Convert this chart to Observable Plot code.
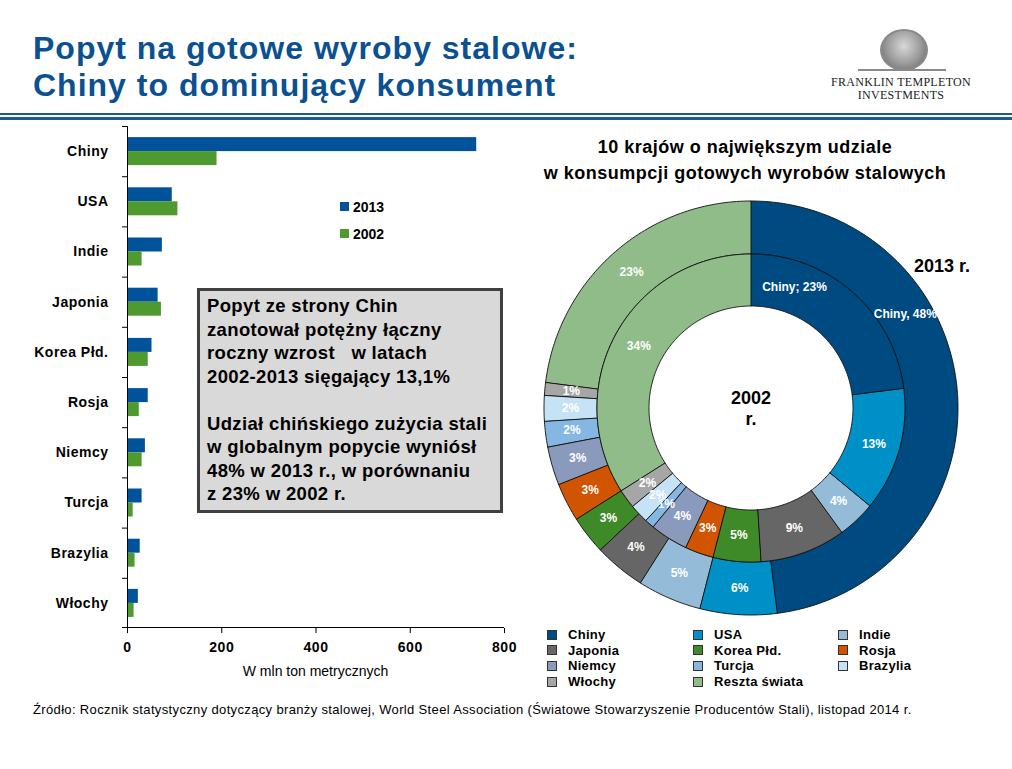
<!DOCTYPE html>
<html lang="pl">
<head>
<meta charset="utf-8">
<script src="https://cdn.jsdelivr.net/npm/d3@7"></script>
<script src="https://cdn.jsdelivr.net/npm/@observablehq/plot@0.6"></script>
<style>
html,body{margin:0;padding:0;background:#fff}
#page{position:relative;width:1012px;height:769px;overflow:hidden;font-family:"Liberation Sans",Arial,sans-serif;color:#000}
.abs{position:absolute}
#title{left:33px;top:30px;font-size:32px;font-weight:bold;color:#0b5191;line-height:37px;white-space:nowrap;letter-spacing:1px}
#rule1{left:0;top:113px;width:1012px;height:2px;background:#1d5a8e}
#rule2{left:0;top:117px;width:1012px;height:3px;background:#1d5a8e}
#logo-oval{left:880px;top:29px;width:44px;height:38px;border-radius:50%;border:2px solid #8a8a8a;background:radial-gradient(ellipse at 50% 40%,#d8d8d8 0%,#9a9a9a 55%,#5e5e5e 100%)}
#logo-base{left:858px;top:69px;width:88px;height:2px;background:#8a8a8a}
#logo-text{left:818px;top:76px;width:166px;text-align:center;font-family:"Liberation Serif","DejaVu Serif",serif;font-size:12px;line-height:12.5px;color:#222;letter-spacing:0.3px}
#bars{left:0;top:110px}
#bars svg text{letter-spacing:0.5px}
#donut{left:530px;top:187px}
#xlabel{left:127px;top:663px;width:377px;text-align:center;font-size:14px}
#barlegend{left:340px;top:193px;font-size:14px;font-weight:bold}
.bl-item{display:flex;align-items:center;height:27px}
.bl-sw{width:9px;height:9px;margin-right:4px}
#box{left:197px;top:288px;width:306px;height:225px;box-sizing:border-box;border:3px solid #404040;background:#d9d9d9;padding:3px 0 0 7px;font-size:18.5px;font-weight:bold;line-height:23.5px;z-index:2;white-space:nowrap;letter-spacing:0.35px}
#dtitle{left:530px;top:134px;width:430px;text-align:center;font-size:18px;font-weight:bold;line-height:26px;letter-spacing:0.5px}
#y2013{left:914px;top:256px;font-size:18px;font-weight:bold}
#dlegend{left:547px;top:627px;display:grid;grid-template-columns:146px 145px 140px;grid-auto-rows:15.6px;font-size:13px;font-weight:bold;letter-spacing:0.3px}
.dl-item{display:flex;align-items:center;white-space:nowrap}
.dl-sw{width:8px;height:8px;border:1px solid #333;margin-right:11px;flex:none}
#source{left:33px;top:702px;font-size:13px;white-space:nowrap;letter-spacing:0.35px}
</style>
</head>
<body>
<div id="page">
  <div id="title" class="abs">Popyt na gotowe wyroby stalowe:<br>Chiny to dominujący konsument</div>
  <div id="rule1" class="abs"></div>
  <div id="rule2" class="abs"></div>
  <div id="logo-oval" class="abs"></div>
  <div id="logo-base" class="abs"></div>
  <div id="logo-text" class="abs">FRANKLIN TEMPLETON<br>INVESTMENTS</div>
  <div id="bars" class="abs"></div>
  <div id="xlabel" class="abs"></div>
  <div id="barlegend" class="abs"></div>
  <div id="box" class="abs"></div>
  <div id="dtitle" class="abs"></div>
  <div id="donut" class="abs"></div>
  <div id="y2013" class="abs"></div>
  <div id="dlegend" class="abs"></div>
  <div id="source" class="abs"></div>
</div>
<script>
// ---------- DATA ----------
const countries = ["Chiny", "USA", "Indie", "Japonia", "Korea Płd.", "Rosja", "Niemcy", "Turcja", "Brazylia", "Włochy"];
const demand2013 = [741, 95, 74, 65, 52, 44, 38, 31, 27, 23];
const demand2002 = [190, 107, 31, 72, 44, 25, 31, 12, 16, 14];
const xTicks = [0, 200, 400, 600, 800];
const barYears = ["2013", "2002"];
const barColors = ["#00529b", "#4f9a2f"];
const xAxisLabel = "W mln ton metrycznych";

const sliceNames = ["Chiny", "USA", "Indie", "Japonia", "Korea Płd.", "Rosja", "Niemcy", "Turcja", "Brazylia", "Włochy", "Reszta świata"];
const share2013 = [48, 6, 5, 4, 3, 3, 3, 2, 2, 1, 23];
const share2002 = [23, 13, 4, 9, 5, 3, 4, 1, 2, 2, 34];
const sliceColors = ["#004a82", "#0090c8", "#94bcd8", "#666666", "#3f8a28", "#d15400", "#8a9abc", "#84b8e2", "#c6e2f6", "#a6a6a6", "#8fbc88"];
const legendOrder = ["Chiny", "USA", "Indie", "Japonia", "Korea Płd.", "Rosja", "Niemcy", "Turcja", "Brazylia", "Włochy", "Reszta świata"];

const titleLines = ["10 krajów o największym udziale", "w konsumpcji gotowych wyrobów stalowych"];
const ringLabels = {outer: "2013 r.", inner: "2002\nr."};
const boxText = ["Popyt ze strony Chin", "zanotował potężny łączny", "roczny wzrost\u00a0\u00a0 w latach", "2002-2013 sięgający 13,1%", "", "Udział chińskiego zużycia stali", "w globalnym popycie wyniósł", "48% w 2013 r., w porównaniu", "z 23% w 2002 r."];
const sourceText = "Źródło: Rocznik statystyczny dotyczący branży stalowej, World Steel Association (Światowe Stowarzyszenie Producentów Stali), listopad 2014 r.";

// ---------- BAR CHART ----------
const font = '"Liberation Sans", Arial, sans-serif';
const W = 520, H = 580, mL = 127, mR = 16, mT = 16, mB = 62;
const step = (H - mT - mB) / countries.length;
const barH = 14;
const gap = (step - 2 * barH) / 2;
const pxPerUnit = (W - mL - mR) / (xTicks[xTicks.length - 1] - xTicks[0]);
const tickLen = 5 / pxPerUnit;

const rows = countries.map((c, i) => ({country: c, v2013: demand2013[i], v2002: demand2002[i]}));
const last = countries[countries.length - 1];

const bars = Plot.plot({
  width: W, height: H, marginLeft: mL, marginRight: mR, marginTop: mT, marginBottom: mB,
  style: {fontFamily: font, fontSize: "14px", fontWeight: "bold", color: "#000", background: "transparent", overflow: "visible"},
  x: {domain: [xTicks[0], xTicks[xTicks.length - 1]], ticks: xTicks},
  y: {domain: countries, padding: 0, round: false},
  marks: [
    Plot.barX(rows, {x: "v2013", y: "country", fill: barColors[0], insetTop: gap, insetBottom: gap + barH}),
    Plot.barX(rows, {x: "v2002", y: "country", fill: barColors[1], insetTop: gap + barH, insetBottom: gap}),
    // category separator ticks (top of each band)
    Plot.barX(countries, {y: d => d, x1: -tickLen, x2: 0, fill: "#000", insetBottom: step - 1}),
    // bottom axis line with last tick
    Plot.barX([last], {y: d => d, x1: -tickLen, x2: xTicks[xTicks.length - 1], fill: "#000", insetTop: step - 1}),
    Plot.ruleX([0], {stroke: "#000", strokeWidth: 1}),
    Plot.axisY({tickSize: 0, tickPadding: 19, label: null, fontWeight: "bold", fontSize: 14}),
    Plot.axisX({ticks: xTicks, tickSize: 5, tickPadding: 9, label: null, fontWeight: "bold", fontSize: 14, stroke: "#000"})
  ]
});
document.getElementById("bars").appendChild(bars);
document.getElementById("xlabel").textContent = xAxisLabel;

const bl = document.getElementById("barlegend");
barYears.forEach((y, i) => {
  const it = document.createElement("div"); it.className = "bl-item";
  const sw = document.createElement("div"); sw.className = "bl-sw"; sw.style.background = barColors[i];
  const t = document.createElement("span"); t.textContent = y;
  it.appendChild(sw); it.appendChild(t); bl.appendChild(it);
});

// text box
document.getElementById("box").innerHTML = boxText.map(s => s === "" ? "&nbsp;" : s.replace(/&/g, "&amp;")).join("<br>");

// ---------- DONUT ----------
const S = 441;           // svg size
const outerPx = 207;     // outer radius in px
const D = S / 2 / outerPx;
const rOuter = 1, rMid = 154 / 207, rHole = 102 / 207;
const labelFrac = {"outer:Chiny": 0.34, "inner:Chiny": 0.24};

function ring(values, ringName, r0, r1) {
  const total = d3.sum(values);
  let acc = 0;
  return values.map((v, i) => {
    const a0 = acc / total * 2 * Math.PI; acc += v;
    const a1 = acc / total * 2 * Math.PI;
    return {ring: ringName, name: sliceNames[i], value: v, a0, a1, r0, r1};
  });
}
const slices = [...ring(share2013, "outer", rMid, rOuter), ...ring(share2002, "inner", rHole, rMid)];

const pts = [];
for (const s of slices) {
  const n = Math.max(2, Math.ceil((s.a1 - s.a0) / (Math.PI / 180)));
  const key = s.ring + ":" + s.name;
  for (let k = 0; k <= n; k++) {
    const a = s.a0 + (s.a1 - s.a0) * k / n;
    pts.push({key, name: s.name, x: s.r1 * Math.sin(a), y: s.r1 * Math.cos(a)});
  }
  for (let k = n; k >= 0; k--) {
    const a = s.a0 + (s.a1 - s.a0) * k / n;
    pts.push({key, name: s.name, x: s.r0 * Math.sin(a), y: s.r0 * Math.cos(a)});
  }
}
const labels = slices.map(s => {
  const key = s.ring + ":" + s.name;
  const f = labelFrac[key] ?? 0.5;
  const a = s.a0 + (s.a1 - s.a0) * f;
  const r = (s.r0 + s.r1) / 2;
  let text = s.value + "%";
  if (s.name === "Chiny") text = s.ring === "outer" ? `Chiny, ${s.value}%` : `Chiny; ${s.value}%`;
  return {x: r * Math.sin(a), y: r * Math.cos(a), text};
});

const donut = Plot.plot({
  width: S, height: S, margin: 0,
  style: {fontFamily: font, background: "transparent", overflow: "visible"},
  x: {domain: [-D, D], axis: null},
  y: {domain: [-D, D], axis: null},
  color: {domain: sliceNames, range: sliceColors},
  marks: [
    Plot.line(pts, {x: "x", y: "y", z: "key", fill: "name", stroke: "#111", strokeWidth: 0.9, curve: "linear-closed"}),
    Plot.text(labels, {x: "x", y: "y", text: "text", fill: "white", fontWeight: "bold", fontSize: 12}),
    Plot.text([ringLabels.inner], {frameAnchor: "middle", text: d => d, fontSize: 18, fontWeight: "bold", fill: "#000", lineHeight: 1.17})
  ]
});
document.getElementById("donut").appendChild(donut);
document.getElementById("y2013").textContent = ringLabels.outer;
document.getElementById("dtitle").innerHTML = titleLines.join("<br>");

const dl = document.getElementById("dlegend");
legendOrder.forEach(name => {
  const it = document.createElement("div"); it.className = "dl-item";
  const sw = document.createElement("div"); sw.className = "dl-sw";
  sw.style.background = sliceColors[sliceNames.indexOf(name)];
  const t = document.createElement("span"); t.textContent = name;
  it.appendChild(sw); it.appendChild(t); dl.appendChild(it);
});

document.getElementById("source").textContent = sourceText;
</script>
</body>
</html>
